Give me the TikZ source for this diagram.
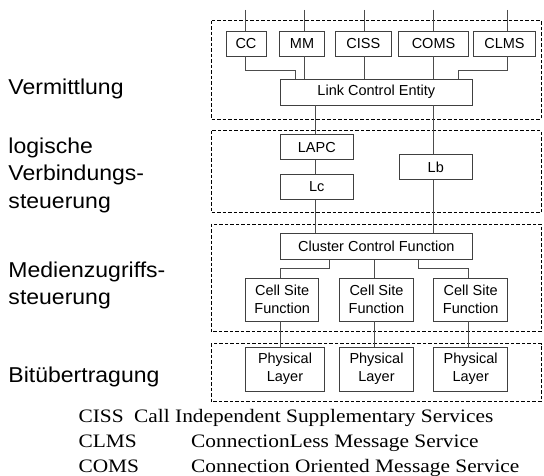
\documentclass[tikz,border=0pt]{standalone}
\usepackage{fontspec}
\setmainfont{Liberation Sans}
\newfontfamily\labfont{Liberation Sans}[FakeStretch=1.07]
\newfontfamily\legfont{Liberation Serif}[FakeStretch=1.125]
\begin{document}
\begin{tikzpicture}[x=1pt,y=-1pt,
  box/.style={draw=black!75, line width=0.9pt, inner sep=0pt, align=center,
    font=\fontsize{14.5}{18}\selectfont},
  layer/.style={draw=black, dash pattern=on 3.5pt off 2pt, line width=0.8pt},
  conn/.style={draw=black!70, line width=0.9pt},
  lab/.style={anchor=base west, inner sep=0pt, font=\labfont\fontsize{21.5}{27}\selectfont},
  leg/.style={anchor=base west, inner sep=0pt, font=\legfont\fontsize{19}{25}\selectfont}]
\useasboundingbox (0,0) rectangle (544,476);

% layer frames
\draw[layer] (211,20.7) rectangle (541,119);
\draw[layer] (211,130.7) rectangle (541,212.7);
\draw[layer] (211,224) rectangle (541,331.7);
\draw[layer] (211,343.5) rectangle (541,401.7);

% left labels
\node[lab] (l1) at (8.3,94.3) {Vermittlung};
\node[lab] (l2a) at (8.3,154) {logische};
\node[lab] (l2b) at (8.3,181) {Verbindungs-};
\node[lab] (l2c) at (8.3,208) {steuerung};
\node[lab] (l3a) at (8.3,277.3) {Medienzugriffs-};
\node[lab] (l3b) at (8.3,304.3) {steuerung};
\node[lab] (l4) at (8.3,382.7) {Bitübertragung};

% top service boxes
\node[box, minimum width=40pt, minimum height=25pt] (cc) at (246,43.5) {CC};
\node[box, minimum width=45.4pt, minimum height=25pt] (mm) at (302,43.5) {MM};
\node[box, minimum width=56.7pt, minimum height=25pt] (ciss) at (363.3,43.5) {CISS};
\node[box, minimum width=69.6pt, minimum height=25pt] (coms) at (433.5,43.5) {COMS};
\node[box, minimum width=61.6pt, minimum height=25pt] (clms) at (504.5,43.5) {CLMS};

\node[box, minimum width=192.7pt, minimum height=26pt] (lce) at (376.3,92) {Link Control Entity};

\node[box, minimum width=73.7pt, minimum height=24.7pt] (lapc) at (316.8,147.3) {LAPC};
\node[box, minimum width=73.7pt, minimum height=24.6pt] (lc) at (316.8,187) {Lc};
\node[box, minimum width=73.7pt, minimum height=24.6pt] (lb) at (435.8,167) {Lb};

\node[box, minimum width=192.7pt, minimum height=25.7pt] (ccf) at (376.3,246.2) {Cluster Control Function};

\node[box, minimum width=73pt, minimum height=42.3pt] (csf1) at (282.2,299.8) {Cell Site\\Function};
\node[box, minimum width=73.6pt, minimum height=42.3pt] (csf2) at (376.5,299.8) {Cell Site\\Function};
\node[box, minimum width=74pt, minimum height=42.3pt] (csf3) at (470.7,299.8) {Cell Site\\Function};

\node[box, minimum width=78.6pt, minimum height=43.7pt] (pl1) at (285,369.2) {Physical\\Layer};
\node[box, minimum width=73.6pt, minimum height=43.7pt] (pl2) at (376.5,369.2) {Physical\\Layer};
\node[box, minimum width=74pt, minimum height=43.7pt] (pl3) at (470.7,369.2) {Physical\\Layer};

% helper coordinates
\coordinate (t1) at (245.3,10);
\coordinate (t2) at (304.7,10);
\coordinate (t3) at (364,10);
\coordinate (t4) at (433.3,10);
\coordinate (t5) at (507.7,10);
\coordinate (ytop) at (0,70);
\coordinate (xl) at (295.3,0);
\coordinate (xr) at (458.3,0);
\coordinate (xa) at (315,0);
\coordinate (xb) at (433.3,0);
\coordinate (ymid) at (0,268.3);
\coordinate (xc1) at (329.3,0);
\coordinate (xc3) at (418.7,0);
\coordinate (xp1) at (280,0);
\coordinate (xp2) at (374,0);
\coordinate (xp3) at (468.3,0);

% connectors from top
\draw[conn] (t1) -- (t1 |- cc.north);
\draw[conn] (t2) -- (t2 |- mm.north);
\draw[conn] (t3) -- (t3 |- ciss.north);
\draw[conn] (t4) -- (t4 |- coms.north);
\draw[conn] (t5) -- (t5 |- clms.north);

% services to LCE
\draw[conn] (t1 |- cc.south) -- (t1 |- ytop) -- (xl |- ytop) -- (xl |- lce.north);
\draw[conn] (t2 |- mm.south) -- (t2 |- lce.north);
\draw[conn] (t3 |- ciss.south) -- (t3 |- lce.north);
\draw[conn] (t4 |- coms.south) -- (t4 |- lce.north);
\draw[conn] (t5 |- clms.south) -- (t5 |- ytop) -- (xr |- ytop) -- (xr |- lce.north);

% LCE down
\draw[conn] (xa |- lce.south) -- (xa |- lapc.north);
\draw[conn] (xa |- lapc.south) -- (xa |- lc.north);
\draw[conn] (xa |- lc.south) -- (xa |- ccf.north);
\draw[conn] (xb |- lce.south) -- (xb |- lb.north);
\draw[conn] (xb |- lb.south) -- (xb |- ccf.north);

% CCF to cell sites
\draw[conn] (xc1 |- ccf.south) -- (xc1 |- ymid) -- (xp1 |- ymid) -- (xp1 |- csf1.north);
\draw[conn] (xp2 |- ccf.south) -- (xp2 |- csf2.north);
\draw[conn] (xc3 |- ccf.south) -- (xc3 |- ymid) -- (xp3 |- ymid) -- (xp3 |- csf3.north);

% cell sites to physical layers
\draw[conn] (xp1 |- csf1.south) -- (xp1 |- pl1.north);
\draw[conn] (xp2 |- csf2.south) -- (xp2 |- pl2.north);
\draw[conn] (xp3 |- csf3.south) -- (xp3 |- pl3.north);

% legend
\node[leg] (g1a) at (78.3,422.3) {CISS};
\node[leg] (g1b) at (134,422.3) {Call Independent Supplementary Services};
\node[leg] (g2a) at (78.3,447.3) {CLMS};
\node[leg] (g2b) at (191,447.3) {ConnectionLess Message Service};
\node[leg] (g3a) at (78.3,472.3) {COMS};
\node[leg] (g3b) at (191,472.3) {Connection Oriented Message Service};
\end{tikzpicture}
\end{document}
